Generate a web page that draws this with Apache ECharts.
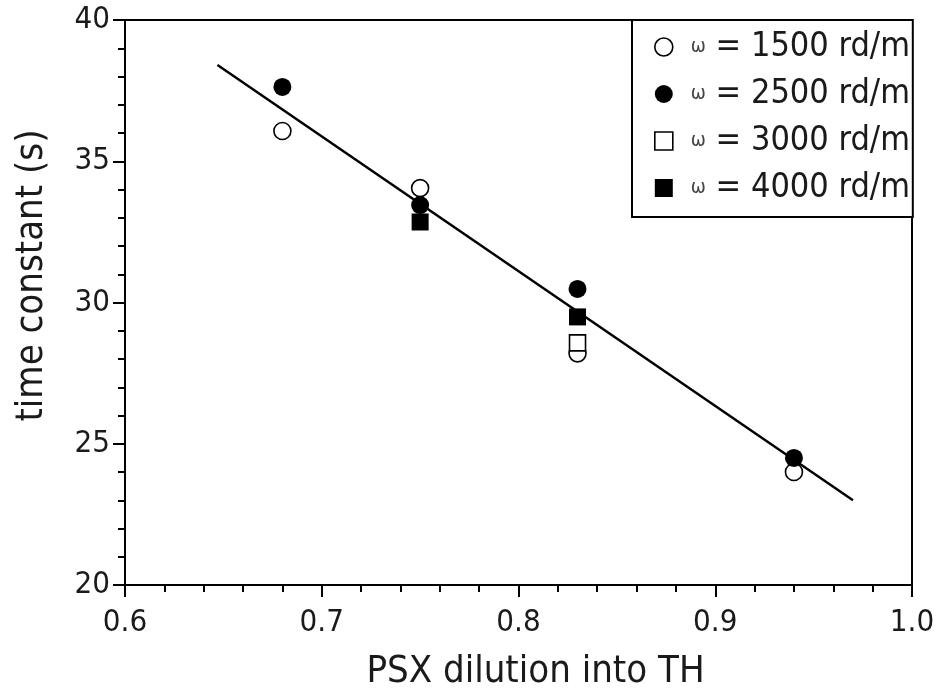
<!DOCTYPE html>
<html>
<head>
<meta charset="utf-8">
<script src="https://cdn.jsdelivr.net/npm/echarts@6/dist/echarts.min.js"></script>
<style>html,body{margin:0;padding:0;background:#fff}#c{width:945px;height:700px}</style>
</head>
<body>
<div id="c"></div>
<script>
// Data
const seriesNames = ['ω = 1500 rd/min', 'ω = 2500 rd/min', 'ω = 3000 rd/min', 'ω = 4000 rd/min'];
const x1500 = [0.68, 0.75, 0.83, 0.94];
const y1500 = [36.07, 34.05, 28.2, 24.0];
const x2500 = [0.68, 0.75, 0.83, 0.94];
const y2500 = [37.63, 33.45, 30.48, 24.5];
const x3000 = [0.83];
const y3000 = [28.57];
const x4000 = [0.75, 0.83];
const y4000 = [32.85, 29.49];
const fitX = [0.647, 0.97];
const fitY = [38.41, 23.0];
const xTitle = 'PSX dilution into TH';
const yTitle = 'time constant (s)';

const pairs = (xs, ys) => xs.map((x, i) => [x, ys[i]]);
const FONT = '"DejaVu Sans Condensed", "DejaVu Sans", sans-serif';
const TXT = '#1a1a1a';

const chart = echarts.init(document.getElementById('c'), null, {renderer: 'canvas'});
const openStyle = {color: '#fff', borderColor: '#000', borderWidth: 1.6, opacity: 1};
const fillStyle = {color: '#000', borderColor: '#000', borderWidth: 0, opacity: 1};

chart.setOption({
  animation: false,
  backgroundColor: '#fff',
  grid: {left: 125, right: 33, top: 20, bottom: 115, show: true, borderColor: '#000', borderWidth: 2, backgroundColor: 'transparent'},
  xAxis: {
    type: 'value', min: 0.6, max: 1.0, interval: 0.1,
    name: xTitle, nameLocation: 'middle', nameGap: 68,
    nameTextStyle: {fontFamily: FONT, fontSize: 38, color: TXT, padding: [0, 0, 0, 34]},
    axisLine: {show: true, lineStyle: {color: '#000', width: 2}},
    axisTick: {show: true, inside: false, length: 12, lineStyle: {color: '#000', width: 2}},
    minorTick: {show: true, splitNumber: 5, length: 7, lineStyle: {color: '#000', width: 2}},
    splitLine: {show: false},
    axisLabel: {fontFamily: FONT, fontSize: 31, color: TXT, margin: 22, formatter: v => v.toFixed(1)}
  },
  yAxis: {
    type: 'value', min: 20, max: 40, interval: 5,
    name: yTitle, nameLocation: 'middle', nameGap: 74, nameRotate: 90,
    nameTextStyle: {fontFamily: FONT, fontSize: 38, color: TXT, padding: [0, 0, 0, 54]},
    axisLine: {show: true, lineStyle: {color: '#000', width: 2}},
    axisTick: {show: true, inside: false, length: 12, lineStyle: {color: '#000', width: 2}},
    minorTick: {show: true, splitNumber: 5, length: 7, lineStyle: {color: '#000', width: 2}},
    splitLine: {show: false},
    axisLabel: {fontFamily: FONT, fontSize: 31, color: TXT, margin: 15, formatter: v => String(v)}
  },
  legend: {
    orient: 'vertical', left: 632, top: 20,
    padding: [9, 0, 11, 22],
    itemWidth: 18, itemHeight: 18, itemGap: 11,
    backgroundColor: '#fff', borderColor: '#000', borderWidth: 2, borderRadius: 0,
    data: [
      {name: seriesNames[0], icon: 'circle', itemStyle: {color: '#fff', borderColor: '#000', borderWidth: 1.6}},
      {name: seriesNames[1], icon: 'circle', itemStyle: {color: '#000', borderWidth: 0}},
      {name: seriesNames[2], icon: 'rect', itemStyle: {color: '#fff', borderColor: '#000', borderWidth: 1.6}},
      {name: seriesNames[3], icon: 'rect', itemStyle: {color: '#000', borderWidth: 0}}
    ],
    formatter: n => n.replace('ω', '{w|ω}'),
    textStyle: {
      fontFamily: FONT, fontSize: 34, color: TXT, lineHeight: 36,
      width: 222, overflow: 'truncate', ellipsis: '', padding: [0, 0, 0, 13],
      rich: {w: {fontFamily: FONT, fontSize: 20, color: '#444', lineHeight: 36}}
    }
  },
  series: [
    {name: seriesNames[0], type: 'scatter', symbol: 'circle', symbolSize: 17, data: pairs(x1500, y1500), itemStyle: openStyle, z: 3},
    {name: seriesNames[1], type: 'scatter', symbol: 'circle', symbolSize: 18, data: pairs(x2500, y2500), itemStyle: fillStyle, z: 3},
    {name: seriesNames[2], type: 'scatter', symbol: 'rect', symbolSize: 16, data: pairs(x3000, y3000), itemStyle: openStyle, z: 3},
    {name: seriesNames[3], type: 'scatter', symbol: 'rect', symbolSize: 17, data: pairs(x4000, y4000), itemStyle: fillStyle, z: 3},
    {name: 'fit', type: 'line', data: pairs(fitX, fitY), showSymbol: false, symbol: 'none', lineStyle: {color: '#000', width: 2.5}, z: 2, silent: true}
  ]
});
</script>
</body>
</html>
